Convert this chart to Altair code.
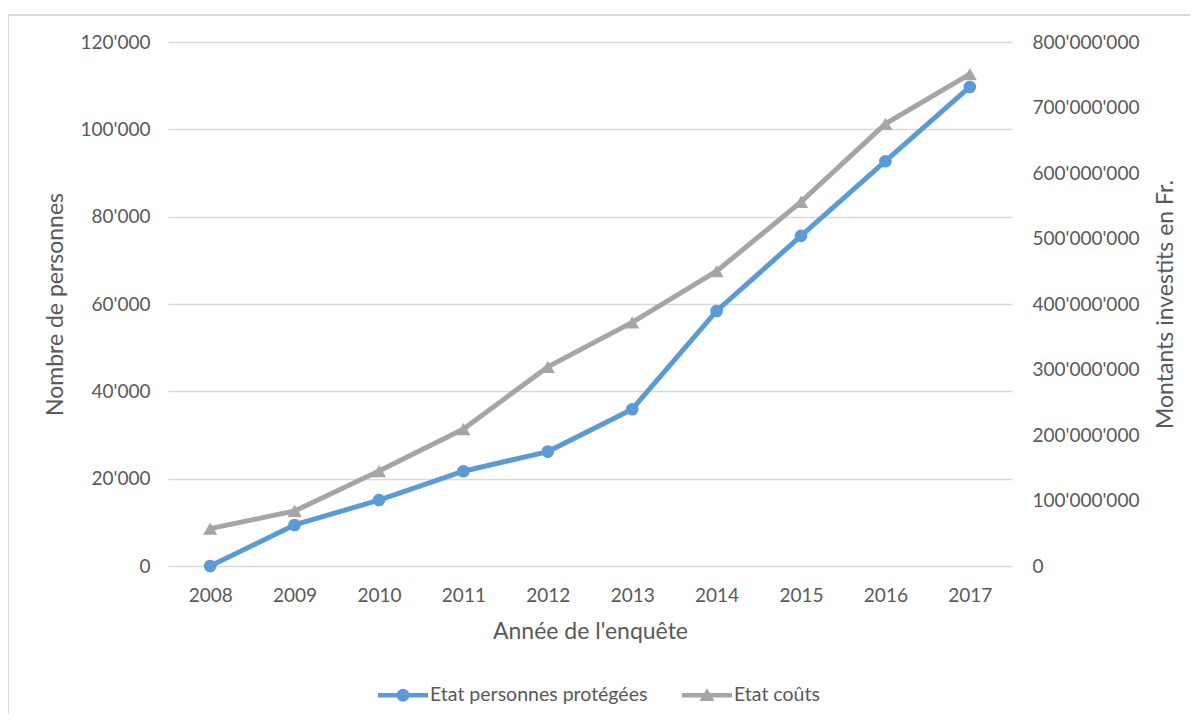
import math
import altair as alt
import pandas as pd

years = [2008, 2009, 2010, 2011, 2012, 2013, 2014, 2015, 2016, 2017]
persons = [0, 9400, 15100, 21700, 26200, 35900, 58400, 75600, 92700, 109700]
costs = [57e6, 84e6, 145e6, 209e6, 304e6, 372e6, 450e6, 556e6, 675e6, 751e6]
series_names = ["Etat personnes protégées", "Etat coûts"]
series_colors = ["#5B9BD5", "#A5A5A5"]
left_ticks = [0, 20000, 40000, 60000, 80000, 100000, 120000]
right_ticks = [0, 1e8, 2e8, 3e8, 4e8, 5e8, 6e8, 7e8, 8e8]

df = pd.DataFrame({"year": years, "persons": persons, "costs": costs})

FONT = "Lato"
TXT = "#595959"
GRID = "#D9D9D9"
fmt = "replace(format(datum.value, ','), regexp(',', 'g'), \"'\")"

# legend symbols: line + marker (unit coordinates)
def poly_circle(r, n=16):
    pts = [(r * math.cos(2 * math.pi * i / n), r * math.sin(2 * math.pi * i / n)) for i in range(n)]
    return "M" + " L".join(f"{x:.3f},{y:.3f}" for x, y in pts) + " Z"

bar = "M-1,-0.09 L1,-0.09 L1,0.09 L-1,0.09 Z "
sym_circle = bar + poly_circle(0.26)
sym_tri = bar + "M-0.3,0.23 L0,-0.28 L0.3,0.23 Z"

x_enc = alt.X(
    "year:O",
    title="Année de l'enquête",
    axis=alt.Axis(labelAngle=0, ticks=False, domain=False, grid=False, labelPadding=20,
                  titlePadding=15),
)

y_left = alt.Y(
    "persons:Q",
    title="Nombre de personnes",
    scale=alt.Scale(domain=[0, 120000], nice=False),
    axis=alt.Axis(orient="left", values=left_ticks, labelExpr=fmt, ticks=False, domain=False,
                  grid=True, labelPadding=18, titlePadding=13),
)
y_right = alt.Y(
    "costs:Q",
    title="Montants investits en Fr.",
    scale=alt.Scale(domain=[0, 8e8], nice=False),
    axis=alt.Axis(orient="right", values=right_ticks, labelExpr=fmt, ticks=False, domain=False,
                  grid=False, labelPadding=20, titlePadding=39, titleAngle=270),
)

base = alt.Chart(df)

grey_line = base.mark_line(color=series_colors[1], strokeWidth=5).encode(x=x_enc, y=y_right)
grey_pts = base.mark_point(shape="triangle-up", filled=True, size=200, opacity=1,
                           color=series_colors[1]).encode(x=x_enc, y=y_right)

blue_line = base.mark_line(color=series_colors[0], strokeWidth=5).encode(x=x_enc, y=y_left)
blue_pts = base.mark_point(shape="circle", filled=True, size=160, opacity=1,
                           color=series_colors[0]).encode(x=x_enc, y=y_left)

legend_props = dict(
    title=None, orient="none", direction="horizontal", legendX=210, legendY=628,
    symbolSize=2500, labelOffset=2, columnPadding=34, labelFont=FONT, labelFontSize=19.5,
    labelColor=TXT, symbolStrokeWidth=0, labelLimit=500,
)

legend_df = pd.DataFrame({"series": series_names})
legend_layer = alt.Chart(legend_df).transform_filter("false").mark_point(filled=True, opacity=1).encode(
    color=alt.Color(
        "series:N",
        scale=alt.Scale(domain=series_names, range=series_colors),
        legend=alt.Legend(**legend_props),
    ),
    shape=alt.Shape(
        "series:N",
        scale=alt.Scale(domain=series_names, range=[sym_circle, sym_tri]),
        legend=alt.Legend(**legend_props),
    ),
)

frame = alt.Chart(pd.DataFrame({"k": [0]})).mark_rect(
    fill=None, stroke=GRID, strokeWidth=2
).encode(x=alt.value(-160), x2=alt.value(1040), y=alt.value(-27), y2=alt.value(700))

chart = alt.layer(
    frame,
    alt.layer(grey_line, grey_pts),
    alt.layer(blue_line, blue_pts, legend_layer),
).resolve_scale(y="independent").properties(
    width=844,
    height=524,
    autosize=alt.AutoSizeParams(type="none"),
    padding={"left": 160, "top": 34, "right": 178, "bottom": 148},
).configure_view(strokeWidth=0).configure_axis(
    labelFont=FONT, labelFontSize=19, labelColor=TXT, titleFont=FONT, titleFontSize=23,
    titleColor=TXT, titleFontWeight="normal", gridColor=GRID, gridWidth=1.5,
)

chart.save("out.html", embed_options={"renderer": "svg", "actions": False})
